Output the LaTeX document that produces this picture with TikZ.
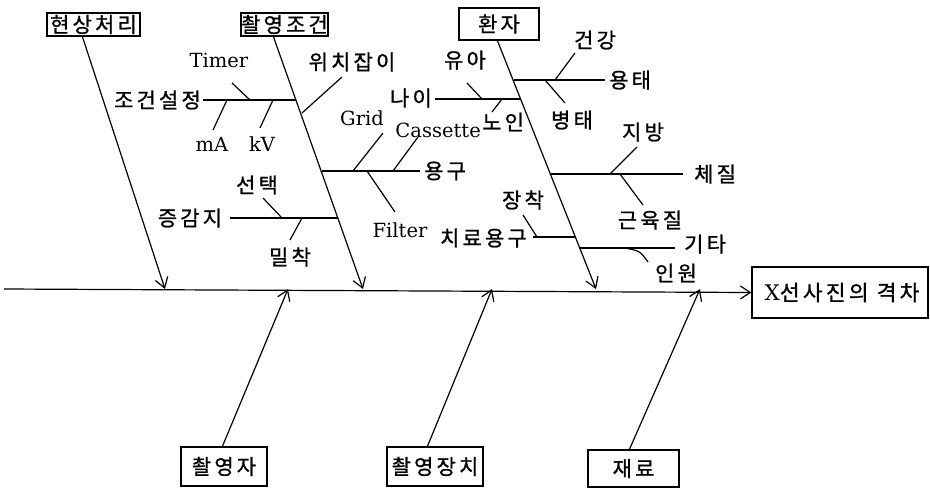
\documentclass[tikz,border=0pt]{standalone}
\usepackage{fontspec}
\setmainfont{DejaVu Serif}
\newfontfamily\kr[FakeBold=1,LetterSpace=15]{Noto Sans CJK KR}
\usetikzlibrary{arrows.meta}
\tikzset{
  box/.style={draw, line width=1.2pt, inner sep=0pt, anchor=center, font=\kr\fontsize{21}{24}\selectfont},
  lbl/.style={inner sep=0pt, font=\kr\fontsize{21}{24}\selectfont},
  lat/.style={inner sep=0pt, font=\fontsize{19.5}{23}\selectfont},
  ln/.style={line width=1.2pt},
  arr/.style={line width=1.2pt, -{Straight Barb[length=10pt,width=13pt,line width=1.2pt]}},
}
\begin{document}
\begin{tikzpicture}[x=1pt,y=-1pt]
\useasboundingbox (0,0) rectangle (930,488);
% category boxes
\node[box, minimum width=93pt, minimum height=23pt] (hs) at (93.5,24.5) {현상처리};
\node[box, minimum width=87pt, minimum height=23pt] (cj) at (284.5,24.5) {촬영조건};
\node[box, minimum width=80pt, minimum height=32pt] (hj) at (499,24) {환자};
\node[box, minimum width=86pt, minimum height=39pt] (ry) at (224,466.5) {촬영자};
\node[box, minimum width=96pt, minimum height=39pt] (rj) at (435,466.5) {촬영장치};
\node[box, minimum width=91pt, minimum height=37pt] (jr) at (633.5,468.5) {재료};
\node[box, minimum width=176pt, minimum height=51pt, font=\fontsize{21.5}{26}\selectfont] (res) at (840,292.5) {\hspace*{4pt}X{\kr\fontsize{21.5}{26}\selectfont 선사진의 격차}};
% spine
\coordinate (s0) at (4,289);
\coordinate (t1) at (165,289);
\coordinate (t2) at (363,289);
\coordinate (t3) at (596,289);
\coordinate (b1) at (288,289);
\coordinate (b2) at (492,289);
\coordinate (b3) at (700,289);
\draw[arr] (s0) -- (res.west);
\draw[arr] (hs.south west) ++(36,0) -- (t1);
\draw[arr] (cj.south west) ++(33,0) -- (t2);
\draw[arr] (hj.south west) ++(39,0) -- (t3);
\draw[arr] (ry.north west) ++(42,0) -- (b1);
\draw[arr] (rj.north west) ++(41,0) -- (b2);
\draw[arr] (jr.north west) ++(42,0) -- (b3);
% labels of 촬영조건
\node[lbl, anchor=east] (jgsj) at (201,100) {조건설정};
\node[lat] (timer) at (219,60) {Timer};
\node[lat] (ma) at (212,144) {mA};
\node[lat] (kv) at (262,144) {kV};
\node[lbl] (wcji) at (352,62) {위치잡이};
\node[lat] (grid) at (362,118) {Grid};
\node[lat, anchor=east] (cas) at (481,130) {Cassette};
\node[lbl, anchor=west] (yg) at (424,171) {용구};
\node[lat] (filter) at (400,230) {Filter};
\node[lbl] (jgj) at (190,218) {증감지};
\node[lbl] (st) at (257,185) {선택};
\node[lbl] (mc) at (290,257) {밀착};
% labels of 환자
\node[lbl, anchor=east] (nai) at (432,98) {나이};
\node[lbl] (yua) at (465,60) {유아};
\node[lbl, anchor=west] (noin) at (482,122) {노인};
\node[lbl, anchor=west] (yt) at (609,80) {용태};
\node[lbl] (gg) at (595,40) {건강};
\node[lbl] (bt) at (572,120) {병태};
\node[lbl, anchor=west] (cjl) at (694,174) {체질};
\node[lbl] (jb) at (643,132) {지방};
\node[lbl] (gyj) at (650,220) {근육질};
\node[lbl, anchor=east] (cryg) at (527,238) {치료용구};
\node[lbl] (jc) at (523,200) {장착};
\node[lbl, anchor=west] (gt) at (684,244) {기타};
\node[lbl] (iw) at (676,273) {인원};
% sub-branches of 촬영조건
\draw[ln] (203,100) -- (296,100);
\draw[ln] (232,83) -- (250,100);
\draw[ln] (227,100) -- (213,130);
\draw[ln] (273,100) -- (260,128);
\draw[ln] (302,113) -- (342,77);
\draw[ln] (322,171) -- (420,171);
\draw[ln] (353,171) -- (383,133);
\draw[ln] (393,171) -- (418,137);
\draw[ln] (367,171) -- (395,212);
\draw[ln] (230,218) -- (338,218);
\draw[ln] (263,198) -- (282,218);
\draw[ln] (302,218) -- (290,240);
% sub-branches of 환자
\draw[ln] (435,99) -- (521,99);
\draw[ln] (467,83) -- (482,99);
\draw[ln] (502,99) -- (492,112);
\draw[ln] (514,80) -- (605,80);
\draw[ln] (555,80) -- (575,53);
\draw[ln] (545,80) -- (565,103);
\draw[ln] (551,174) -- (683,174);
\draw[ln] (610,174) -- (637,147);
\draw[ln] (620,174) -- (643,205);
\draw[ln] (533,237) -- (575,237);
\draw[ln] (523,215) -- (537,237);
\draw[ln] (580,248) -- (675,248);
\draw[ln] (625,248) .. controls (640,251) .. (648,262);
\end{tikzpicture}
\end{document}
